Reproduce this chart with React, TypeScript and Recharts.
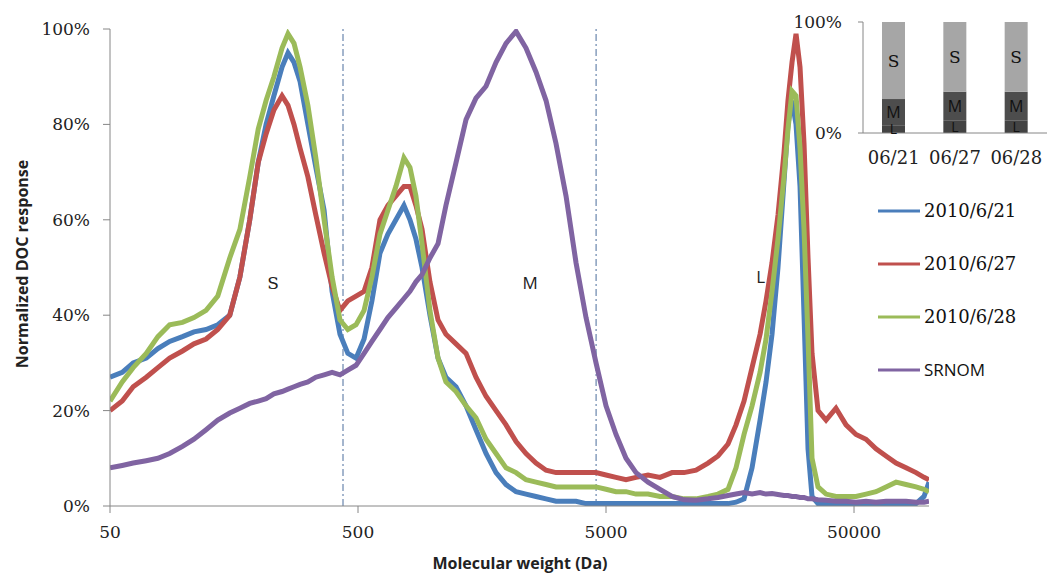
import React from "react";
import {
  LineChart,
  Line,
  XAxis,
  YAxis,
  ReferenceLine,
  ReferenceDot,
  BarChart,
  Bar,
  LabelList,
} from "recharts";

// molecular weight grid (Da)
const mw = [
  50, 56, 62, 70, 78, 87, 98, 109, 122, 136,
  152, 167, 183, 198, 213, 229, 247, 261, 276, 292,
  314, 338, 365, 393, 423, 455, 491, 529, 569, 613,
  660, 711, 766, 810, 856, 906, 975, 1051, 1131, 1242,
  1363, 1495, 1641, 1801, 1976, 2169, 2379, 2610, 2865, 3143,
  3449, 3785, 4153, 4557, 5000, 5486, 6020, 6605, 7385, 8257,
  9232, 10317, 11535, 12892, 14146, 15520, 16718, 18010, 19400, 20897,
  22090, 23351, 24683, 26097, 27083, 28117, 29182, 30288, 31432, 32625,
  33852, 35793, 38565, 42283, 46418, 50935, 55890, 61330, 67297, 73862,
  81030, 88914, 95763, 100300,
];

// normalized DOC response (%)
const june21 = [
  27, 28, 30, 31, 33, 34.5, 35.5, 36.5, 37, 38,
  40, 48, 60, 72, 80, 86, 92, 95, 93, 89,
  80, 71, 62, 45, 36, 32, 31, 35, 43, 53,
  57, 60, 63, 60, 56, 50, 40, 31, 27, 25,
  21, 16, 11, 7, 4.5, 3, 2.5, 2, 1.5, 1,
  1, 1, 0.5, 0.5, 0.5, 0.5, 0.5, 0.5, 0.5, 0.5,
  0.5, 0.5, 0.5, 0.5, 0.5, 0.5, 0.8, 1.5, 8, 18,
  26, 36, 50, 68, 80, 85, 80, 67, 40, 12,
  2, 0.5, 0.5, 0.5, 0.5, 0.5, 0.5, 0.5, 0.5, 0.5,
  0.5, 0.5, 2, 5,
];

const june27 = [
  20, 22, 25, 27, 29, 31, 32.5, 34, 35, 37,
  40, 48, 60, 72, 78, 83, 86, 84, 80, 75,
  69, 61, 53, 46, 41, 43, 44, 45, 50, 60,
  63, 65, 67, 67, 63, 58, 47, 39, 36, 34,
  32, 27, 23, 20, 17, 13.5, 11, 9, 7.5, 7,
  7, 7, 7, 7, 6.5, 6, 5.5, 6, 6.5, 6,
  7, 7, 7.5, 9, 10.5, 13, 17, 22, 29, 36,
  43, 51, 61, 74, 85, 93, 99, 92, 76, 52,
  32, 20, 18, 20.5, 17, 15, 14, 12, 10.5, 9,
  8, 7, 6, 5.5,
];

const june28 = [
  22, 26, 29, 32, 35.5, 38, 38.5, 39.5, 41, 44,
  52, 58, 69, 79, 85, 90, 96, 99, 97, 92,
  84, 73, 60, 48, 39, 37, 38, 41, 48, 57,
  62, 67, 73, 71, 65, 55, 41, 31, 26, 24,
  21, 18.5, 14, 11, 8, 7, 5.5, 5, 4.5, 4,
  4, 4, 4, 4, 3.5, 3, 3, 2.5, 2.5, 2,
  2, 1.5, 1.5, 2, 2.5, 3.5, 8, 15, 21, 28,
  35, 45, 56, 69, 79, 87, 86, 75, 58, 35,
  10, 4, 2.5, 2, 2, 2, 2.5, 3, 4, 5,
  4.5, 4, 3.5, 3,
];

const srnom = [
  8, 8.5, 9, 9.5, 10, 11, 12.5, 14, 16, 18,
  19.5, 20.5, 21.5, 22, 22.5, 23.5, 24, 24.5, 25, 25.5,
  26, 27, 27.5, 28, 27.5, 28.5, 29.5, 32, 34.5, 37,
  39.5, 41.5, 43.5, 45, 47, 48.5, 52, 55, 63, 72,
  81, 85.5, 88, 93, 97, 99.5, 96, 91, 85, 76,
  65, 51, 39.5, 30, 21, 15, 10, 7, 5, 3.5,
  2, 1.3, 1.2, 1.5, 1.8, 2.2, 2.5, 2.8, 2.5, 2.8,
  2.5, 2.6, 2.4, 2.2, 2.2, 2, 2, 1.8, 1.8, 1.5,
  1.5, 1.3, 1.2, 1, 1, 0.8, 1, 0.8, 1, 1,
  1, 0.8, 0.8, 1,
];

const seriesNames = ["2010/6/21", "2010/6/27", "2010/6/28", "SRNOM"];
const seriesKeys = ["b", "r", "g", "p"];
const seriesColors = ["#4a7ebb", "#c0504d", "#9bbb59", "#8064a2"];

const xTicks = [50, 500, 5000, 50000];
const yTicks = [0, 20, 40, 60, 80, 100];
const cutoffs = [435, 4560];

// fraction inset
const fracDates = ["06/21", "06/27", "06/28"];
const fracL = [7, 11, 11];
const fracM = [23.6, 26.2, 26.2];
const fracS = [69.4, 62.8, 62.8];

const rows = mw.map((m, i) => ({
  mw: m,
  b: june21[i],
  r: june27[i],
  g: june28[i],
  p: srnom[i],
}));

const fracRows = fracDates.map((d, i) => ({
  date: d,
  L: fracL[i],
  M: fracM[i],
  S: fracS[i],
  lTag: "L",
  mTag: "M",
  sTag: "S",
}));

const serif = "'DejaVu Serif', 'Liberation Serif', serif";
const sans = "'Open Sans', 'Noto Sans', sans-serif";
const axisGray = "#868686";

const YTitle = () => (
  <text
    x={22}
    y={264}
    transform="rotate(-90 22 264)"
    textAnchor="middle"
    dominantBaseline="central"
    fontFamily={sans}
    fontWeight="bold"
    fontSize={16}
    fill="#222"
  >
    Normalized DOC response
  </text>
);

const XTitle = () => (
  <text
    x={520}
    y={563}
    textAnchor="middle"
    dominantBaseline="central"
    fontFamily={sans}
    fontWeight="bold"
    fontSize={16}
    fill="#222"
  >
    Molecular weight (Da)
  </text>
);

const SeriesLegend = () => (
  <div style={{ position: "absolute", left: 878, top: 184, width: 169 }}>
    {seriesNames.map((name, i) => (
      <div key={name} style={{ display: "flex", alignItems: "center", height: 53 }}>
        <svg width={46} height={6}>
          <line x1={0} y1={3} x2={42} y2={3} stroke={seriesColors[i]} strokeWidth={3} />
        </svg>
        <span
          style={{
            fontFamily: name === "SRNOM" ? sans : serif,
            fontSize: name === "SRNOM" ? 17 : 18,
            color: "#111",
            lineHeight: "20px",
          }}
        >
          {name}
        </span>
      </div>
    ))}
  </div>
);

const regionLabel = (text: string, font: string) => ({
  value: text,
  position: "center" as const,
  fontFamily: font,
  fontSize: 17,
  fill: "#222",
});

export default function App() {
  return (
    <div style={{ position: "absolute", left: 0, top: 0, width: 1047, height: 575 }}>
      <LineChart
        width={1047}
        height={575}
        data={rows}
        margin={{ top: 29, right: 118, bottom: 39, left: 50 }}
      >
        <XAxis
          dataKey="mw"
          type="number"
          scale="log"
          domain={[50, 100300]}
          allowDataOverflow
          ticks={xTicks}
          height={30}
          stroke={axisGray}
          tickSize={7}
          tickMargin={13}
          tick={{ fontFamily: serif, fontSize: 17, fill: "#222" }}
          label={<XTitle />}
        />
        <YAxis
          type="number"
          domain={[0, 100]}
          ticks={yTicks}
          allowDataOverflow
          width={60}
          stroke={axisGray}
          tickSize={7}
          tickMargin={13}
          tickFormatter={(v: number) => `${v}%`}
          tick={{ fontFamily: serif, fontSize: 17, fill: "#222" }}
          label={<YTitle />}
        />
        {cutoffs.map((c) => (
          <ReferenceLine
            key={c}
            x={c}
            stroke="#4a6d9c"
            strokeWidth={1}
            strokeDasharray="7 3 2 3"
          />
        ))}
        {seriesKeys.map((k, i) => (
          <Line
            key={k}
            name={seriesNames[i]}
            dataKey={k}
            stroke={seriesColors[i]}
            strokeWidth={5}
            dot={false}
            type="linear"
            isAnimationActive={false}
          />
        ))}
        <ReferenceDot x={227} y={46.75} r={0} fill="none" stroke="none" label={regionLabel("S", serif)} />
        <ReferenceDot x={2470} y={46.75} r={0} fill="none" stroke="none" label={regionLabel("M", sans)} />
        <ReferenceDot x={21000} y={48} r={0} fill="none" stroke="none" label={regionLabel("L", sans)} />
      </LineChart>

      <SeriesLegend />

      <div style={{ position: "absolute", left: 770, top: 0 }}>
        <BarChart
          width={277}
          height={175}
          data={fracRows}
          margin={{ top: 22, right: 0, bottom: 0, left: 0 }}
        >
          <XAxis
            dataKey="date"
            height={42}
            stroke={axisGray}
            tickLine={false}
            tickSize={6}
            tickMargin={12}
            tick={{ fontFamily: serif, fontSize: 18, fill: "#222" }}
          />
          <YAxis
            domain={[0, 100]}
            ticks={[0, 100]}
            width={93}
            stroke={axisGray}
            tickSize={5}
            tickMargin={16}
            tickFormatter={(v: number) => `${v}%`}
            tick={{ fontFamily: serif, fontSize: 17, fill: "#222" }}
          />
          <Bar dataKey="L" stackId="a" fill="#434343" barSize={23} isAnimationActive={false}>
            <LabelList dataKey="lTag" position="center" fontFamily={sans} fontSize={14} fill="#111" />
          </Bar>
          <Bar dataKey="M" stackId="a" fill="#4d4d4d" barSize={23} isAnimationActive={false}>
            <LabelList dataKey="mTag" position="center" fontFamily={sans} fontSize={16} fill="#111" />
          </Bar>
          <Bar dataKey="S" stackId="a" fill="#a6a6a6" barSize={23} isAnimationActive={false}>
            <LabelList dataKey="sTag" position="center" fontFamily={serif} fontSize={17} fill="#111" />
          </Bar>
        </BarChart>
      </div>
    </div>
  );
}
